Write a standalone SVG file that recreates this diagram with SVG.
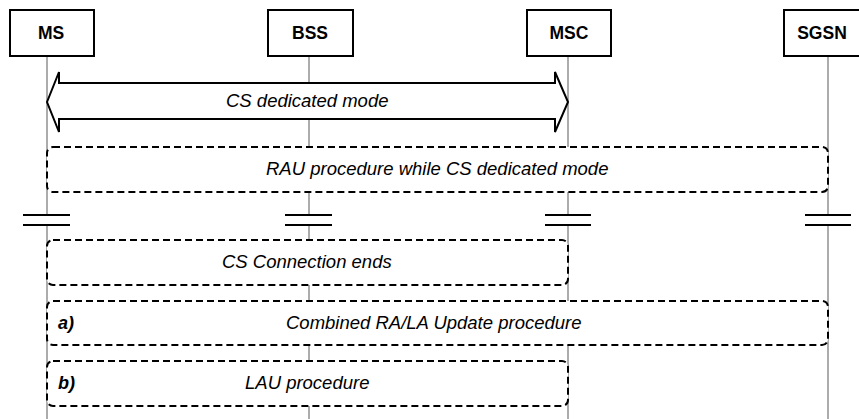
<svg xmlns="http://www.w3.org/2000/svg" width="859" height="419" viewBox="0 0 859 419">
<style>
.box{fill:#fff;stroke:#000;stroke-width:2}
.hdr{font-family:"Liberation Sans",Arial,sans-serif;font-size:17.5px;font-weight:bold;text-anchor:middle}
.life{stroke:#808080;stroke-width:1.3;fill:none}
.brk{stroke:#000;stroke-width:2}
.dash{fill:#fff;stroke:#000;stroke-width:2;stroke-dasharray:7,4}
.lbl{font-family:"Liberation Sans",Arial,sans-serif;font-size:18.5px;font-style:italic}
.tag{font-family:"Liberation Sans",Arial,sans-serif;font-size:18px;font-style:italic;font-weight:bold}
</style>
<g id="lifelines">
<path class="life" d="M47,56V214M47,226V419"/>
<path class="life" d="M309,56V214M309,226V419"/>
<path class="life" d="M568,56V214M568,226V419"/>
<path class="life" d="M828,56V214M828,226V419"/>
</g>
<g id="MS"><rect class="box" x="10" y="10" width="84" height="46"/><text class="hdr" x="51" y="39">MS</text></g>
<g id="BSS"><rect class="box" x="268" y="10" width="85" height="46"/><text class="hdr" x="310" y="39">BSS</text></g>
<g id="MSC"><rect class="box" x="527" y="10" width="84" height="46"/><text class="hdr" x="569" y="39">MSC</text></g>
<g id="SGSN"><rect class="box" x="784" y="10" width="84" height="46"/><text class="hdr" x="822" y="39">SGSN</text></g>
<g id="connectors">
<polygon points="47,102 59,72 59,83 555,83 555,72 568,102 555,132 555,119 59,119 59,132" fill="#fff" stroke="#000" stroke-width="2" stroke-linejoin="miter"/>
<text class="lbl" x="226" y="107">CS dedicated mode</text>
</g>
<g id="rau"><rect class="dash" x="47" y="147" width="781" height="45" rx="6"/><text class="lbl" x="266" y="175">RAU procedure while CS dedicated mode</text></g>
<g id="breaks">
<path class="brk" d="M23,215H70M23,225H70"/>
<path class="brk" d="M285,215H332M285,225H332"/>
<path class="brk" d="M545,215H591M545,225H591"/>
<path class="brk" d="M805,215H851M805,225H851"/>
</g>
<g id="csend"><rect class="dash" x="47" y="240" width="521" height="45" rx="6"/><text class="lbl" x="222" y="268">CS Connection ends</text></g>
<g id="combined"><rect class="dash" x="47" y="301" width="781" height="44" rx="6"/><text class="tag" x="58" y="329">a)</text><text class="lbl" x="286" y="329">Combined RA/LA Update procedure</text></g>
<g id="lau"><rect class="dash" x="47" y="361" width="521" height="45" rx="6"/><text class="tag" x="58" y="389">b)</text><text class="lbl" x="245" y="389">LAU procedure</text></g>
</svg>
